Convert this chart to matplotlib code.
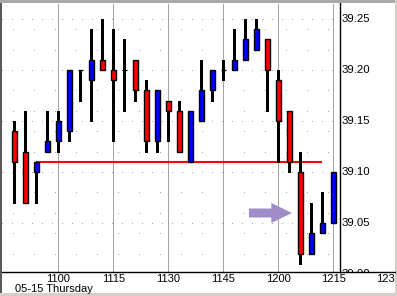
import matplotlib
matplotlib.use("Agg")
import matplotlib.pyplot as plt
from matplotlib.patches import Rectangle, FancyArrow
from matplotlib.lines import Line2D
from matplotlib.transforms import Bbox, offset_copy

plt.rcParams['lines.scale_dashes'] = False
plt.rcParams['font.family'] = ['Liberation Sans', 'DejaVu Sans']

# ---- data ----
times = ["10:48", "10:51", "10:54", "10:57", "11:00", "11:03", "11:06", "11:09", "11:12", "11:15",
         "11:18", "11:21", "11:24", "11:27", "11:30", "11:33", "11:36", "11:39", "11:42", "11:45",
         "11:48", "11:51", "11:54", "11:57", "12:00", "12:03", "12:06", "12:09", "12:12", "12:15"]
opens = [39.14, 39.12, 39.10, 39.12, 39.13, 39.14, 39.20, 39.19, 39.21, 39.20,
         39.20, 39.21, 39.18, 39.13, 39.17, 39.16, 39.11, 39.15, 39.18, 39.20,
         39.20, 39.21, 39.22, 39.23, 39.19, 39.16, 39.10, 39.02, 39.04, 39.05]
highs = [39.15, 39.16, 39.11, 39.16, 39.16, 39.20, 39.20, 39.24, 39.25, 39.24,
         39.23, 39.21, 39.19, 39.18, 39.17, 39.17, 39.16, 39.21, 39.20, 39.21,
         39.24, 39.25, 39.25, 39.23, 39.20, 39.16, 39.12, 39.07, 39.08, 39.10]
lows = [39.07, 39.07, 39.07, 39.12, 39.12, 39.13, 39.17, 39.15, 39.20, 39.13,
        39.16, 39.17, 39.12, 39.12, 39.13, 39.12, 39.11, 39.15, 39.17, 39.19,
        39.20, 39.21, 39.22, 39.16, 39.11, 39.10, 39.01, 39.02, 39.04, 39.05]
closes = [39.11, 39.07, 39.11, 39.13, 39.15, 39.20, 39.20, 39.21, 39.20, 39.19,
          39.20, 39.18, 39.13, 39.18, 39.16, 39.12, 39.16, 39.18, 39.20, 39.20,
          39.21, 39.23, 39.24, 39.20, 39.15, 39.11, 39.02, 39.04, 39.05, 39.10]

level_price = 39.11
level_start = "10:54"
level_end = "12:12"

arrow_price = 39.0598
arrow_tail_min = 712.0
arrow_tip_min = 723.7

xtick_times = ["11:00", "11:15", "11:30", "11:45", "12:00", "12:15", "12:30"]
xtick_labels = ["1100", "1115", "1130", "1145", "1200", "1215", "1230"]
ytick_values = [39.00, 39.05, 39.10, 39.15, 39.20, 39.25]
ytick_labels = ["39.00", "39.05", "39.10", "39.15", "39.20", "39.25"]
grid_prices = [39.02, 39.04, 39.05, 39.06, 39.08, 39.10, 39.12, 39.14, 39.15, 39.16,
               39.18, 39.20, 39.22, 39.24, 39.25]
date_label = "05-15 Thursday"


def tmin(s):
    h, m = s.split(":")
    return int(h) * 60 + int(m)


W, H = 397, 296
fig = plt.figure(figsize=(W / 100, H / 100), dpi=100)
fig.patch.set_facecolor("white")

ax = fig.add_axes([2 / W, 1 - 272 / H, 338 / W, 269 / H])
ax.set_xlim(644.65, 736.83)
ax.set_ylim(39.00196, 39.26569)
ax.set_facecolor("white")
for s in ["left", "top"]:
    ax.spines[s].set_visible(False)
for s in ["right", "bottom"]:
    ax.spines[s].set_color("black")
    ax.spines[s].set_linewidth(1.0)
ax.set_xticks([])
ax.set_yticks([])

PX = 0.72  # points per pixel
# vertical dotted grid
for t in xtick_times:
    tm = tmin(t)
    if ax.get_xlim()[0] < tm < ax.get_xlim()[1]:
        ax.axvline(tm, color="#a4a4a4", lw=PX * 1.2, linestyle=(0, (PX, PX)),
                   antialiased=False, zorder=0)
# horizontal dotted grid
for p in grid_prices:
    major = abs(round(p * 100) % 5) == 0
    period = 11 if major else 22
    ax.axhline(p, color="#a8a8a8", lw=PX * 1.2,
               linestyle=(10 * PX, (PX, (period - 1) * PX)),
               antialiased=False, zorder=0)

# support line
ax.plot([tmin(level_start), tmin(level_end)], [level_price, level_price],
        color="#ff0000", lw=1.5, solid_capstyle="butt", zorder=2)

# candles
bw = 1.3
for t, o, h, l, c in zip(times, opens, highs, lows, closes):
    x = tmin(t)
    ax.vlines(x, l, h, color="black", lw=PX * 1.3, zorder=3, antialiased=False)
    if abs(c - o) < 1e-9:
        ax.hlines(o, x - bw / 2, x + bw / 2, color="black", lw=PX * 1.3, zorder=4)
    else:
        col = "#0000ff" if c > o else "#ff0000"
        ax.add_patch(Rectangle((x - bw / 2, min(o, c)), bw, abs(c - o),
                               facecolor=col, edgecolor="black", lw=1.0, zorder=4))

# arrow
alen = arrow_tip_min - arrow_tail_min
ax.add_patch(FancyArrow(arrow_tail_min, arrow_price, alen, 0, width=0.0088,
                        head_width=0.0196, head_length=5.6,
                        length_includes_head=True, color="#9f8cc8", lw=0, zorder=5))

# x tick labels
xtr = offset_copy(ax.get_xaxis_transform(), fig=fig, x=0, y=-2, units="dots")
for t, lab in zip(xtick_times, xtick_labels):
    ax.text(tmin(t), 0, lab, transform=xtr, ha="center", va="top", fontsize=8,
            clip_on=False)

# y tick labels (clipped below the x axis)
ytr = offset_copy(ax.get_yaxis_transform(), fig=fig, x=2, y=0, units="dots")
clipbox = Bbox([[0, H - 272], [W, H]])
for v, lab in zip(ytick_values, ytick_labels):
    txt = ax.text(1, v, lab, transform=ytr, ha="left", va="center", fontsize=8.2,
                  clip_on=True)
    txt.set_clip_box(clipbox)

fig.text(15 / W, 1 - 289 / H, date_label, ha="left", va="center", fontsize=8)

# extend x axis line to the right edge
fig.add_artist(Line2D([340 / W, 395 / W], [1 - 272 / H, 1 - 272 / H],
                      transform=fig.transFigure, color="black", lw=1.0))

# window frame
fig.add_artist(Rectangle((0, 0), 2 / W, 1, transform=fig.transFigure,
                         facecolor="#5a5a5a", edgecolor="none"))
fig.add_artist(Rectangle((0, 1 - 2.5 / H), 1, 2.5 / H, transform=fig.transFigure,
                         facecolor="#a8a8a8", edgecolor="none"))
fig.add_artist(Rectangle((0, 0), 1, 3 / H, transform=fig.transFigure,
                         facecolor="#d4d0c8", edgecolor="none"))
fig.add_artist(Rectangle((395 / W, 0), 2 / W, 1, transform=fig.transFigure,
                         facecolor="#d4d0c8", edgecolor="none"))

fig.savefig("out.png", dpi=100, facecolor="white")
